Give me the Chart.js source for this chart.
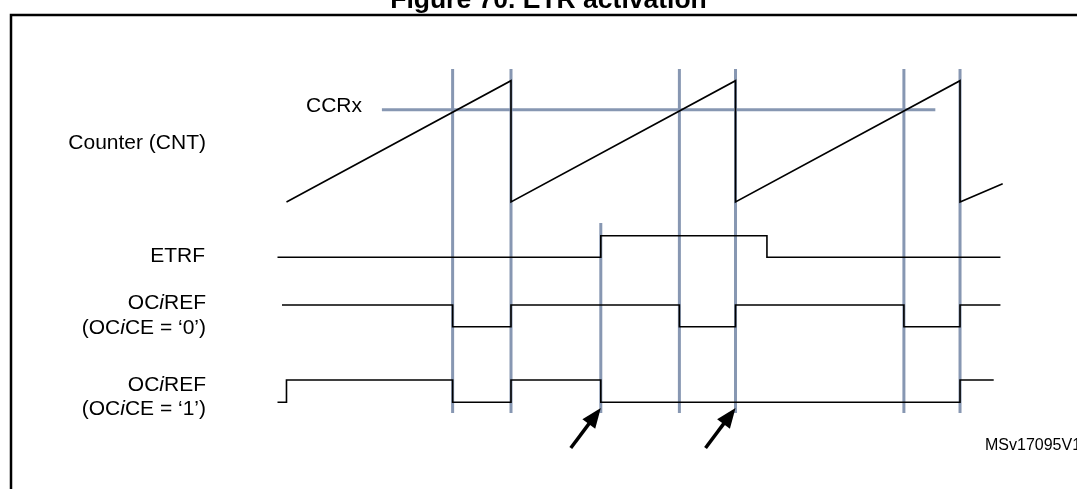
<!DOCTYPE html>
<html>
<head>
<meta charset="utf-8">
<script src="https://cdn.jsdelivr.net/npm/chart.js@4/dist/chart.umd.min.js"></script>
<style>
  html, body { margin: 0; padding: 0; background: #fff; overflow: hidden; }
  #wrap { position: relative; width: 1077px; height: 489px; }
</style>
</head>
<body>
<div id="wrap"><canvas id="c"></canvas></div>
<script>
// ---------------- DATA (time in arbitrary units, one counter period = 10) ----------------
const counterT      = [0, 10, 10, 20, 20, 30, 30, 31.9];
const counterValue  = [0, 100, 0, 100, 0, 100, 0, 15];
const ccrxValue     = 76;
const ccrxSpanT     = [4.25, 28.9];
const compareMatchT = [7.4, 17.5, 27.5];
const overflowT     = [10, 20, 30];
const etrfEdgeT     = [14];
const etrfT         = [-0.4, 14, 21.4, 31.8];
const etrfLevel     = [0, 1, 0, 0];
const oc0T          = [-0.2, 7.4, 10, 17.5, 20, 27.5, 30, 31.8];
const oc0Level      = [1, 0, 1, 0, 1, 0, 1, 1];
const oc1T          = [-0.4, 0, 7.4, 10, 14, 30, 31.5];
const oc1Level      = [0, 1, 0, 1, 0, 1, 1];
const arrowT        = [14, 20];
const titleText     = 'Figure 70. ETR activation';
const footText      = 'MSv17095V1';

// ---------------- LAYOUT (pixel geometry of the drawing) ----------------
const W = 1077, H = 489;
const X_MIN = -12.76, X_MAX = 35.21;
const cntRow = { zeroPx: 202, pxPerCount: 1.213 };
const rows = {
  yEtr: { low: 257.3, high: 235.7 },
  yOc0: { low: 326.7, high: 305.0 },
  yOc1: { low: 402.3, high: 380.0 }
};
const guideTop = 69, guideBottom = 413, etrfGuideTop = 223;
const arrowTipY = 408;
const BLUE = '#8797b2';
const INK = '#000000';
const FONT = '"Liberation Sans", Arial, Helvetica, sans-serif';

function levelAxis(r) {
  const max = r.low / (r.low - r.high);
  const min = (r.low - H) / (r.low - r.high);
  return { type: 'linear', display: false, min: min, max: max };
}
const cntMax = cntRow.zeroPx / cntRow.pxPerCount;
const cntMin = cntMax - H / cntRow.pxPerCount;

function pts(ts, vs) { return ts.map((t, i) => ({ x: t, y: vs[i] })); }

const labels = [
  { parts: [['Counter (CNT)', false]], x: 206, y: 143 },
  { parts: [['CCRx', false]], x: 362, y: 106.5 },
  { parts: [['ETRF', false]], x: 205, y: 256.5 },
  { parts: [['OC', false], ['i', true], ['REF', false]], x: 206, y: 303.5 },
  { parts: [['(OC', false], ['i', true], ['CE = \u20180\u2019)', false]], x: 206, y: 328 },
  { parts: [['OC', false], ['i', true], ['REF', false]], x: 206, y: 385 },
  { parts: [['(OC', false], ['i', true], ['CE = \u20181\u2019)', false]], x: 206, y: 409.5 }
];

function drawRich(ctx, parts, rightX, y, size) {
  const fontOf = it => (it ? 'italic ' : '') + size + 'px ' + FONT;
  let total = 0;
  parts.forEach(p => { ctx.font = fontOf(p[1]); total += ctx.measureText(p[0]).width; });
  let x = rightX - total;
  ctx.textAlign = 'left';
  ctx.textBaseline = 'middle';
  parts.forEach(p => { ctx.font = fontOf(p[1]); ctx.fillText(p[0], x, y); x += ctx.measureText(p[0]).width; });
}

const decor = {
  id: 'decor',
  beforeDatasetsDraw(chart) {
    const ctx = chart.ctx, xs = chart.scales.x;
    ctx.save();
    ctx.strokeStyle = BLUE;
    ctx.lineWidth = 3;
    compareMatchT.concat(overflowT).forEach(t => {
      const px = xs.getPixelForValue(t);
      ctx.beginPath(); ctx.moveTo(px, guideTop); ctx.lineTo(px, guideBottom); ctx.stroke();
    });
    etrfEdgeT.forEach(t => {
      const px = xs.getPixelForValue(t);
      ctx.beginPath(); ctx.moveTo(px, etrfGuideTop); ctx.lineTo(px, guideBottom); ctx.stroke();
    });
    ctx.restore();
  },
  afterDatasetsDraw(chart) {
    const ctx = chart.ctx, xs = chart.scales.x;
    ctx.save();
    // frame
    ctx.strokeStyle = INK; ctx.lineWidth = 2.5;
    ctx.beginPath(); ctx.moveTo(W, 15); ctx.lineTo(11, 15); ctx.lineTo(11, H); ctx.stroke();
    // title (cut at the top)
    ctx.fillStyle = INK;
    ctx.font = 'bold 26.5px ' + FONT;
    ctx.textAlign = 'center'; ctx.textBaseline = 'alphabetic';
    ctx.fillText(titleText, 548.5, 7.5);
    // labels
    labels.forEach(l => drawRich(ctx, l.parts, l.x, l.y, 21));
    ctx.font = '16px ' + FONT;
    ctx.textAlign = 'left'; ctx.textBaseline = 'middle';
    ctx.fillText(footText, 985, 446);
    // arrows
    arrowT.forEach(t => {
      const tipX = xs.getPixelForValue(t), tipY = arrowTipY;
      const ux = 0.6, uy = -0.8, len = 50, hl = 20, hw = 8;
      const tailX = tipX - ux * len, tailY = tipY - uy * len;
      const bx = tipX - ux * hl, by = tipY - uy * hl;
      ctx.strokeStyle = INK; ctx.lineWidth = 3.5; ctx.lineCap = 'butt';
      ctx.beginPath(); ctx.moveTo(tailX, tailY); ctx.lineTo(bx + ux * 2, by + uy * 2); ctx.stroke();
      ctx.beginPath();
      ctx.moveTo(tipX, tipY);
      ctx.lineTo(bx - uy * hw, by + ux * hw);
      ctx.lineTo(bx + uy * hw, by - ux * hw);
      ctx.closePath(); ctx.fill();
    });
    ctx.restore();
  }
};

const common = { pointRadius: 0, fill: false, clip: false, tension: 0, borderJoinStyle: 'miter' };

new Chart(document.getElementById('c'), {
  type: 'line',
  data: {
    datasets: [
      Object.assign({ label: 'CCRx', data: pts(ccrxSpanT, [ccrxValue, ccrxValue]), yAxisID: 'yCnt',
        borderColor: BLUE, borderWidth: 3, order: 5 }, common),
      Object.assign({ label: 'Counter (CNT)', data: pts(counterT, counterValue), yAxisID: 'yCnt',
        borderColor: INK, borderWidth: 1.6, order: 1 }, common),
      Object.assign({ label: 'ETRF', data: pts(etrfT, etrfLevel), yAxisID: 'yEtr', stepped: 'before',
        borderColor: INK, borderWidth: 1.6, order: 1 }, common),
      Object.assign({ label: 'OCiREF (OCiCE=0)', data: pts(oc0T, oc0Level), yAxisID: 'yOc0', stepped: 'before',
        borderColor: INK, borderWidth: 1.6, order: 1 }, common),
      Object.assign({ label: 'OCiREF (OCiCE=1)', data: pts(oc1T, oc1Level), yAxisID: 'yOc1', stepped: 'before',
        borderColor: INK, borderWidth: 1.6, order: 1 }, common)
    ]
  },
  options: {
    responsive: true,
    maintainAspectRatio: false,
    animation: false,
    events: [],
    layout: { padding: 0 },
    plugins: { legend: { display: false }, title: { display: false }, tooltip: { enabled: false } },
    scales: {
      x: { type: 'linear', display: false, min: X_MIN, max: X_MAX },
      yCnt: { type: 'linear', display: false, min: cntMin, max: cntMax },
      yEtr: levelAxis(rows.yEtr),
      yOc0: levelAxis(rows.yOc0),
      yOc1: levelAxis(rows.yOc1)
    }
  },
  plugins: [decor]
});
</script>
</body>
</html>
